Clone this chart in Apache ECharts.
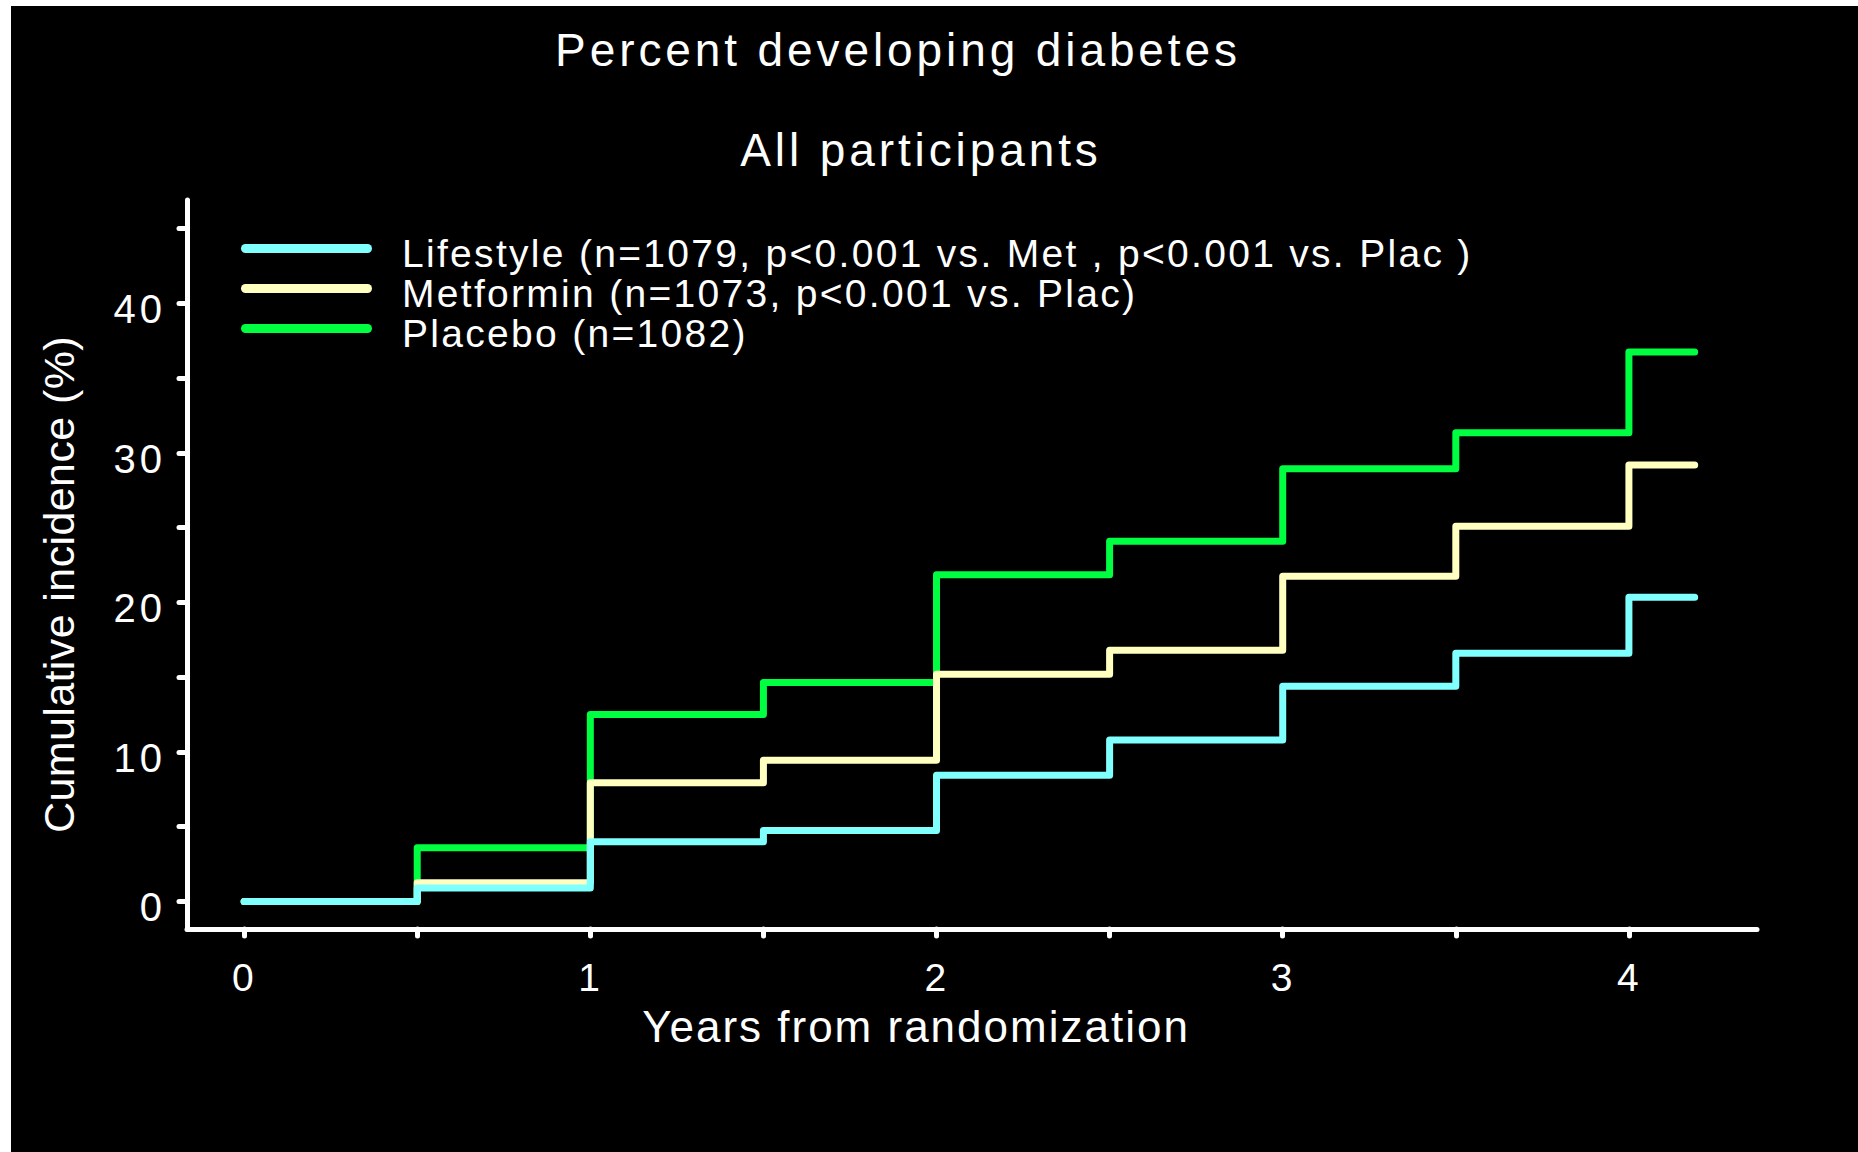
<!DOCTYPE html>
<html>
<head>
<meta charset="utf-8">
<script src="https://cdn.jsdelivr.net/npm/echarts@6/dist/echarts.min.js"></script>
<style>
html, body { margin: 0; padding: 0; background: #000; }
#chart { width: 1858px; height: 1152px; }
#chart text[style*="46px"] { letter-spacing: 3.9px; }
#chart text[style*="40px"] { letter-spacing: 4px; }
#chart text[style*="39px"] { letter-spacing: 2.3px; }
#chart text[style*="44px"] { letter-spacing: 2px; }
#chart text[style*="43px"] { letter-spacing: 0.4px; }
</style>
</head>
<body>
<div id="chart"></div>
<script>
// ---- data ----
const titleText = 'Percent developing diabetes';
const subtitleText = 'All participants';
const xAxisName = 'Years from randomization';
const yAxisName = 'Cumulative incidence (%)';

const years = [0, 0.5, 1, 1.5, 2, 2.5, 3, 3.5, 4, 4.19];
const lifestyle = [0, 0.9, 4.0, 4.75, 8.45, 10.8, 14.4, 16.6, 20.35, 20.35];
const metformin = [0, 1.25, 7.95, 9.45, 15.2, 16.8, 21.75, 25.1, 29.2, 29.2];
const placebo   = [0, 3.6, 12.5, 14.65, 21.85, 24.1, 28.95, 31.35, 36.75, 36.75];

const legendNames = [
  'Lifestyle (n=1079, p<0.001 vs. Met , p<0.001 vs. Plac )',
  'Metformin (n=1073, p<0.001 vs. Plac)',
  'Placebo (n=1082)'
];
const colors = ['#80FFFF', '#FFFFC0', '#00FF40'];

const xTicks = [0, 0.5, 1, 1.5, 2, 2.5, 3, 3.5, 4];
const xTickLabels = [0, 1, 2, 3, 4];
const yTicks = [0, 5, 10, 15, 20, 25, 30, 35, 40, 45];
const yTickLabels = [0, 10, 20, 30, 40];

// ---- chart ----
const FONT = 'Liberation Sans';
const chart = echarts.init(document.getElementById('chart'), null, { renderer: 'svg' });

function pairs(xs, ys) { return xs.map((x, i) => [x, ys[i]]); }

function stepSeries(idx, values, z) {
  return {
    name: legendNames[idx],
    type: 'line',
    step: 'end',
    data: pairs(years, values),
    showSymbol: false,
    symbol: 'none',
    color: colors[idx],
    itemStyle: { color: colors[idx] },
    lineStyle: { color: colors[idx], width: 7, cap: 'round', join: 'round' },
    z: z,
    animation: false
  };
}

const stadium = 'path://M4.5,0H126.5A4.5,4.5,0,0,1,126.5,9H4.5A4.5,4.5,0,0,1,4.5,0Z';

chart.setOption({
  backgroundColor: '#000',
  animation: false,
  title: [
    { text: titleText, left: 898, top: 27, padding: 0, textAlign: 'center',
      textStyle: { color: '#fff', fontFamily: FONT, fontSize: 46, fontWeight: 'normal', lineHeight: 46 } },
    { text: subtitleText, left: 921, top: 127, padding: 0, textAlign: 'center',
      textStyle: { color: '#fff', fontFamily: FONT, fontSize: 46, fontWeight: 'normal', lineHeight: 46 } }
  ],
  legend: {
    data: legendNames,
    orient: 'vertical',
    left: 241,
    top: 224,
    padding: 0,
    itemGap: -9,
    itemWidth: 131,
    itemHeight: 9,
    icon: stadium,
    selectedMode: false,
    itemStyle: { borderWidth: 0 },
    formatter: '{t|{name}}',
    textStyle: {
      color: '#fff', fontFamily: FONT, fontSize: 39,
      rich: { t: { color: '#fff', fontFamily: FONT, fontSize: 39, lineHeight: 39, padding: [10, 0, 0, 25] } }
    }
  },
  grid: { left: 187, right: 101, top: 200, bottom: 223, containLabel: false, outerBoundsMode: 'none' },
  xAxis: {
    type: 'value',
    min: -0.165,
    max: 4.37,
    name: xAxisName,
    nameLocation: 'middle',
    nameGap: 75,
    nameTextStyle: { color: '#fff', fontFamily: FONT, fontSize: 44, lineHeight: 44, padding: [0, 112, 0, 0] },
    splitLine: { show: false },
    axisLine: { show: true, onZero: false, lineStyle: { color: '#fff', width: 5, cap: 'round' } },
    axisTick: { show: true, customValues: xTicks, length: 7, lineStyle: { color: '#fff', width: 5, cap: 'round' } },
    axisLabel: { show: true, customValues: xTickLabels, margin: 29, color: '#fff', fontFamily: FONT, fontSize: 39, lineHeight: 39 }
  },
  yAxis: {
    type: 'value',
    min: -1.84,
    max: 46.92,
    name: yAxisName,
    nameLocation: 'middle',
    nameGap: 107,
    nameTextStyle: { color: '#fff', fontFamily: FONT, fontSize: 43, lineHeight: 43, padding: [0, 40, 0, 0] },
    splitLine: { show: false },
    axisLine: { show: true, onZero: false, lineStyle: { color: '#fff', width: 5, cap: 'round' } },
    axisTick: { show: true, customValues: yTicks, length: 8, lineStyle: { color: '#fff', width: 5, cap: 'round' } },
    axisLabel: { show: true, customValues: yTickLabels, margin: 21, color: '#fff', fontFamily: FONT, fontSize: 40,
                 lineHeight: 12, verticalAlign: 'top' }
  },
  series: [
    stepSeries(2, placebo, 2),
    stepSeries(1, metformin, 3),
    stepSeries(0, lifestyle, 4)
  ],
  graphic: [
    { type: 'rect', shape: { x: 0, y: 0, width: 11, height: 1152 }, style: { fill: '#fff' }, silent: true },
    { type: 'rect', shape: { x: 0, y: 0, width: 1858, height: 6 }, style: { fill: '#fff' }, silent: true }
  ]
});
</script>
</body>
</html>
